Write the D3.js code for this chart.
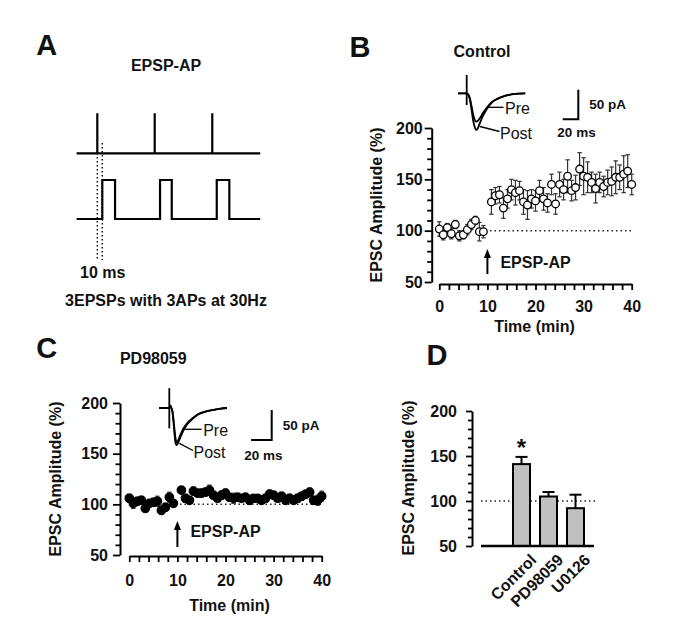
<!DOCTYPE html>
<html><head><meta charset="utf-8">
<script src="https://cdn.jsdelivr.net/npm/d3@7"></script>
<style>
body{margin:0;background:#fff}
svg text{font-family:"Liberation Sans",Arial,Helvetica,sans-serif;fill:#111}
.ax .domain{stroke:#000;stroke-width:2}
.ax .tick line{stroke:#000;stroke-width:1.8}
.ax .tick text{font-size:16px;font-weight:bold;fill:#111}
</style>
</head><body>
<svg id="fig" width="685" height="637"></svg>
<script>
// ---------------- DATA ----------------
// time-course sample times (min); point at 10 min omitted (pairing)
const timeMin = [0,0.83,1.67,2.5,3.33,4.17,5,5.83,6.67,7.5,8.33,9.17,
  10.83,11.67,12.5,13.33,14.17,15,15.83,16.67,17.5,18.33,19.17,20,20.83,21.67,22.5,23.33,24.17,25,
  25.83,26.67,27.5,28.33,29.17,30,30.83,31.67,32.5,33.33,34.17,35,35.83,36.67,37.5,38.33,39.17,40];
const controlMean = [101.6,96,103,97,106,95,96,101,106,110,99,99,
  128,134,135,122,131,140,137,139,128,125,131,129,139,131,127,145,126,145,140,153,
  139,142,160,153,152,147,141,147,143,147,148,152,152,155,158,145];
const controlSem = [7,5,4,5,4,5,4,5,5,4,9,6,
  12,8,8,10,9,10,12,9,12,14,9,10,10,11,9,10,10,12,10,16,
  10,12,16,18,15,10,14,10,10,12,14,16,12,18,16,10];
const pdMean = [106,101,103,104,96,101,102,103,94,97,107,101,
  114,106,104,113,111,111,112,114,109,106,109,111,107,106,107,106,107,104,106,106,
  104,106,110,109,106,108,104,106,104,106,108,110,112,104,104,108];
const pdSem = [4,5,4,4,4,3,4,5,4,4,5,3,
  3,4,3,4,3,4,4,5,3,3,4,4,3,5,4,3,4,4,3,3,
  3,4,4,3,3,4,3,4,3,4,4,3,4,4,5,5];
const yMajor = [50,100,150,200];
const yMinor = [60,70,80,90,110,120,130,140,160,170,180,190];
const xMajor = [0,10,20,30,40];
const xMinor = [2,4,6,8,12,14,16,18,22,24,26,28,32,34,36,38];

// bar summary (panel D)
const barCats = ["Control","PD98059","U0126"];
const barMean = [141,105,92];
const barSem = [8,5,15];

// example EPSC traces (ms, pA inward)
const traceMsB = [-11,0,2,4,6,8,10,12,14,17,21,26,32,40,50,62,75];
const preB  = [0,0,2,8,20,34,44,48,47,42,33,24,15,9,4,1,0];
const postB = [0,0,2,10,26,44,56,62,60,50,38,26,16,9,4,1,0];
const artifactB = [-31,20];
const traceMsC = [-10,0,1,2,3,4,5,6,7,8,10,13,17,22,28,35,43,50,56];
const preC  = [0,0,-4,0,5,18,35,50,57,56,48,36,26,18,10,6,3,1,0];
const postC = [0,0,-4,0,6,22,42,58,62,60,52,40,28,19,11,6,3,1,0];
const artifactC = [-33,34];

// schematic protocol (panel A), ms
const apTimes = [0,33.3,66.7];
const epspOn = [2.9,36.4,69.3];
const epspOff = [10.3,43.2,76.6];
const protoRange = [-12,94.5];

// ---------------- DRAW ----------------
const svg = d3.select("#fig");

function label(x,y,s,size,weight="bold",anchor="middle",rot=0){
  const t = svg.append("text").attr("x",x).attr("y",y).attr("dy","0.35em")
    .attr("font-size",size).attr("font-weight",weight).attr("text-anchor",anchor).text(s);
  if(rot) t.attr("transform",`rotate(${rot},${x},${y})`);
  return t;
}

// ---------- Panel A ----------
label(46.7,45,"A",29);
label(166,65,"EPSP-AP",16);
{
  const ax = d3.scaleLinear().domain([0,33.3]).range([97.3,154.7]);
  const yTop = d3.scaleLinear().domain([0,1]).range([153.3,113.3]);
  const yBot = d3.scaleLinear().domain([0,1]).range([219,180]);
  const topPts = [[protoRange[0],0]];
  apTimes.forEach(t=>{topPts.push([t,0],[t,1],[t,0]);});
  topPts.push([protoRange[1],0]);
  const botPts = [[protoRange[0],0]];
  epspOn.forEach((t,i)=>{botPts.push([t,0],[t,1],[epspOff[i],1],[epspOff[i],0]);});
  botPts.push([protoRange[1],0]);
  const lt = d3.line().x(d=>ax(d[0])).y(d=>yTop(d[1]));
  const lb = d3.line().x(d=>ax(d[0])).y(d=>yBot(d[1]));
  svg.append("path").attr("d",lt(topPts)).attr("fill","none").attr("stroke","#000").attr("stroke-width",2.2);
  svg.append("path").attr("d",lb(botPts)).attr("fill","none").attr("stroke","#000").attr("stroke-width",2.2);
  // dotted guides
  [[apTimes[0],153],[epspOn[0],143]].forEach(([t,y0])=>{
    svg.append("line").attr("x1",ax(t)).attr("x2",ax(t)).attr("y1",y0).attr("y2",260)
      .attr("stroke","#000").attr("stroke-width",1.4).attr("stroke-dasharray","1.5,2.5");
  });
  label(102.7,272,"10 ms",16);
  label(166,300,"3EPSPs with 3APs at 30Hz",16);
}

// ---------- time-course panels ----------
function timeCourse(o){
  const g = svg.append("g");
  const x = d3.scaleLinear().domain([0,40]).range(o.xr);
  const y = d3.scaleLinear().domain([50,200]).range(o.yr);
  g.append("g").attr("class","ax").attr("transform",`translate(${o.yAxisX},0)`)
    .call(d3.axisLeft(y).tickValues(yMajor).tickSize(7).tickPadding(o.yPad).tickSizeOuter(0));
  g.append("g").attr("class","ax").attr("transform",`translate(${o.yAxisX},0)`)
    .call(d3.axisLeft(y).tickValues(yMinor).tickSize(4.5).tickFormat("").tickSizeOuter(0))
    .call(s=>s.select(".domain").remove());
  g.append("g").attr("class","ax").attr("transform",`translate(0,${o.xAxisY})`)
    .call(d3.axisBottom(x).tickValues(xMajor).tickSize(6).tickPadding(o.xPad).tickSizeOuter(0));
  g.append("g").attr("class","ax").attr("transform",`translate(0,${o.xAxisY})`)
    .call(d3.axisBottom(x).tickValues(xMinor).tickSize(6).tickFormat("").tickSizeOuter(0))
    .call(s=>s.select(".domain").remove());
  g.append("line").attr("x1",x(9.6)).attr("x2",x(40)).attr("y1",y(100)).attr("y2",y(100))
    .attr("stroke","#222").attr("stroke-width",1.5).attr("stroke-dasharray","1.5,3");
  const pts = o.t.map((t,i)=>({t,m:o.m[i],s:o.s[i]}));
  const eb = g.append("g").attr("stroke",o.ebColor).attr("stroke-width",1.2);
  pts.forEach(d=>{
    const cx = x(d.t);
    eb.append("line").attr("x1",cx).attr("x2",cx).attr("y1",y(d.m-d.s)).attr("y2",y(d.m+d.s));
    [d.m-d.s,d.m+d.s].forEach(v=>eb.append("line").attr("x1",cx-2.2).attr("x2",cx+2.2).attr("y1",y(v)).attr("y2",y(v)));
  });
  g.append("g").selectAll("circle").data(pts).join("circle")
    .attr("cx",d=>x(d.t)).attr("cy",d=>y(d.m)).attr("r",o.r)
    .attr("fill",o.fill).attr("stroke","#000").attr("stroke-width",1.3);
  // arrow at pairing
  const ax0 = x(10);
  g.append("line").attr("x1",ax0).attr("x2",ax0).attr("y1",o.arrow[0]).attr("y2",o.arrow[1]+6)
    .attr("stroke","#000").attr("stroke-width",2);
  g.append("path").attr("d",`M${ax0},${o.arrow[1]}L${ax0-3.5},${o.arrow[1]+9}L${ax0+3.5},${o.arrow[1]+9}Z`).attr("fill","#000");
  label(ax0+13,o.arrowText,"EPSP-AP",16,"bold","start");
  label((o.xr[0]+o.xr[1])/2+o.timeDx,o.timeY,"Time (min)",16);
  label(o.ylabX,(o.yr[0]+o.yr[1])/2,"EPSC Amplitude (%)",16,"bold","middle",-90);
  return {x,y};
}

function inset(o){
  const tx = d3.scaleLinear().domain([0,20]).range([o.x0,o.x0+o.msPx*20]);
  const ty = d3.scaleLinear().domain([0,50]).range([o.y0,o.y0+o.paPx*50]);
  const line = d3.line().x(d=>tx(d[0])).y(d=>ty(d[1])).curve(d3.curveMonotoneX);
  [o.pre,o.post].forEach(arr=>{
    svg.append("path").attr("d",line(o.ms.map((t,i)=>[t,arr[i]])))
      .attr("fill","none").attr("stroke","#000").attr("stroke-width",1.8);
  });
  svg.append("line").attr("x1",tx(0)).attr("x2",tx(0)).attr("y1",ty(o.art[0])).attr("y2",ty(o.art[1]))
    .attr("stroke","#000").attr("stroke-width",1.8);
  // scale bar
  const [cx,cy] = o.bar;
  svg.append("path").attr("d",`M${cx},${cy-(ty(50)-ty(0))}V${cy}H${cx-(tx(20)-tx(0))}`)
    .attr("fill","none").attr("stroke","#000").attr("stroke-width",2);
  label(cx+o.paDx,cy-15,"50 pA",13.5,"bold","start");
  label(cx-(tx(20)-tx(0))/2+o.msDx,cy+o.msDy,"20 ms",13.5);
  // Pre / Post labels
  svg.append("line").attr("x1",o.preLine[0]).attr("y1",o.preLine[1]).attr("x2",o.preLine[2]).attr("y2",o.preLine[3]).attr("stroke","#000").attr("stroke-width",1.3);
  svg.append("line").attr("x1",o.postLine[0]).attr("y1",o.postLine[1]).attr("x2",o.postLine[2]).attr("y2",o.postLine[3]).attr("stroke","#000").attr("stroke-width",1.3);
  label(o.preLine[2]+1.5,o.preLine[3]+1.5,"Pre",16,"normal","start");
  label(o.postLine[2]+0.5,o.postLine[3]+1.5,"Post",16,"normal","start");
}

// ---------- Panel B ----------
label(360,46.7,"B",29);
label(482,51.7,"Control",16);
timeCourse({xr:[439.3,631.7],yr:[282,128],yAxisX:431.7,xAxisY:284,yPad:2,xPad:11,
  t:timeMin,m:controlMean,s:controlSem,r:3.8,fill:"#fff",ebColor:"#333",
  arrow:[274,249],arrowText:262,timeY:326,timeDx:-1,ylabX:376.5});
inset({x0:466.7,y0:93.3,msPx:0.78,paPx:0.59,ms:traceMsB,pre:preB,post:postB,art:artifactB,
  bar:[578.3,119.3],paDx:11,msDx:6,msDy:13,
  preLine:[488,107.3,503.5,107.3],postLine:[480,126.5,499.5,131.5]});
// baseline before artifact for B
// ---------- Panel C ----------
label(46.7,348,"C",29);
label(153.3,358,"PD98059",16);
timeCourse({xr:[129.3,321.7],yr:[555,403],yAxisX:120,xAxisY:556,yPad:5,xPad:13,
  t:timeMin,m:pdMean,s:pdSem,r:4.2,fill:"#000",ebColor:"#333",
  arrow:[547,521],arrowText:531,timeY:605,timeDx:4,ylabX:55.5});
inset({x0:169.3,y0:408,msPx:1.03,paPx:0.6,ms:traceMsC,pre:preC,post:postC,art:artifactC,
  bar:[271.7,440],paDx:11,msDx:2,msDy:15,
  preLine:[185,429.3,201.7,429.3],postLine:[179.3,443.3,193,450.5]});

// ---------- Panel D ----------
label(437,355,"D",29);
{
  const y = d3.scaleLinear().domain([50,200]).range([546,411]);
  const x = d3.scaleBand().domain(barCats).range([513,584]).paddingInner(0.37).paddingOuter(0);
  const axX = 472;
  svg.append("g").attr("class","ax").attr("transform",`translate(${axX},0)`)
    .call(d3.axisLeft(y).tickValues(yMajor).tickSize(6).tickPadding(9).tickSizeOuter(0));
  svg.append("g").attr("class","ax").attr("transform",`translate(${axX},0)`)
    .call(d3.axisLeft(y).tickValues(yMinor).tickSize(4).tickFormat("").tickSizeOuter(0))
    .call(s=>s.select(".domain").remove());
  svg.append("line").attr("x1",481).attr("x2",598).attr("y1",y(100)).attr("y2",y(100))
    .attr("stroke","#222").attr("stroke-width",1.5).attr("stroke-dasharray","1.5,3");
  const bw = x.bandwidth();
  barCats.forEach((c,i)=>{
    const cx = x(c)+bw/2;
    svg.append("line").attr("x1",cx).attr("x2",cx).attr("y1",y(barMean[i])).attr("y2",y(barMean[i]+barSem[i]))
      .attr("stroke","#000").attr("stroke-width",2);
    svg.append("line").attr("x1",cx-6).attr("x2",cx+6).attr("y1",y(barMean[i]+barSem[i])).attr("y2",y(barMean[i]+barSem[i]))
      .attr("stroke","#000").attr("stroke-width",2);
  });
  svg.selectAll("rect.bar").data(barCats).join("rect").attr("class","bar")
    .attr("x",d=>x(d)).attr("width",bw)
    .attr("y",(d,i)=>y(barMean[i])).attr("height",(d,i)=>y(50)-y(barMean[i]))
    .attr("fill","#c0c0c0").attr("stroke","#000").attr("stroke-width",2);
  svg.append("line").attr("x1",481).attr("x2",594).attr("y1",y(50)).attr("y2",y(50))
    .attr("stroke","#000").attr("stroke-width",2.5);
  svg.append("text").attr("x",x("Control")+bw/2).attr("y",y(barMean[0]+barSem[0])-1)
    .attr("text-anchor","middle").attr("font-size",24).attr("font-weight","bold").text("*");
  barCats.forEach(c=>{
    const px = x(c)+bw/2+8, py = 553;
    svg.append("text").attr("x",px).attr("y",py).attr("dy","0.7em")
      .attr("text-anchor","end").attr("font-size",16).attr("font-weight","bold")
      .attr("transform",`rotate(-45,${px},${py})`).text(c);
  });
  label(408,478,"EPSC Amplitude (%)",16,"bold","middle",-90);
}
</script>
</body></html>
